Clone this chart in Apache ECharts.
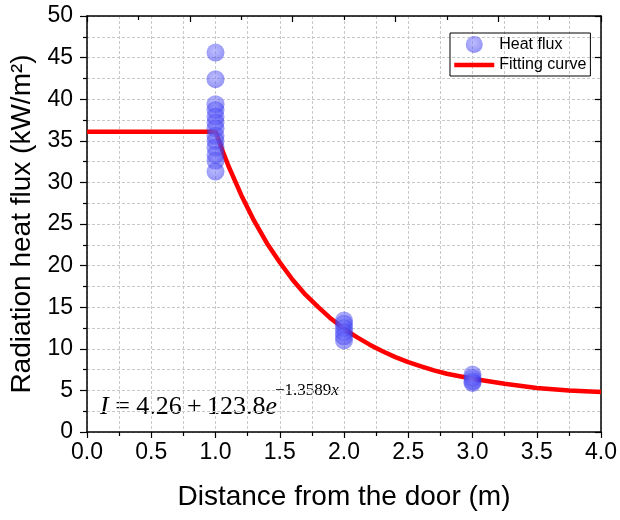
<!DOCTYPE html>
<html><head><meta charset="utf-8">
<script src="https://cdn.jsdelivr.net/npm/echarts@6/dist/echarts.min.js"></script>
<style>html,body{margin:0;padding:0;background:#fff}#c{width:620px;height:520px}</style>
</head><body><div id="c"></div>
<script>
// Measured heat flux points
const fluxX1 = [45.6, 42.4, 39.4, 38.7, 37.9, 37.2, 36.5, 35.6, 35.0, 34.2, 33.3, 32.6, 31.3];
const fluxX2 = [13.4, 13.0, 12.5, 12.0, 11.5, 11.0];
const fluxX3 = [6.9, 6.5, 6.1, 5.9];
// Fitting curve
const curveX = [0, 1.0, 1.05, 1.1, 1.2, 1.3, 1.4, 1.5, 1.6, 1.7, 1.8, 1.9, 2.0, 2.1, 2.2, 2.3, 2.4, 2.5, 2.6, 2.7, 2.8, 2.9, 3.0, 3.25, 3.5, 3.75, 4.0];
const curveY = [36.1, 36.1, 34.0, 32.0, 28.5, 25.4, 22.7, 20.4, 18.3, 16.5, 15.0, 13.6, 12.4, 11.4, 10.5, 9.7, 9.0, 8.4, 7.9, 7.4, 7.0, 6.7, 6.4, 5.8, 5.3, 5.0, 4.8];
const xTicks = ['0.0','0.5','1.0','1.5','2.0','2.5','3.0','3.5','4.0'];
const yTicks = ['0','5','10','15','20','25','30','35','40','45','50'];

const scatterData = [];
fluxX1.forEach(v => scatterData.push([1, v]));
fluxX2.forEach(v => scatterData.push([2, v]));
fluxX3.forEach(v => scatterData.push([3, v]));
const lineData = curveX.map((x, i) => [x, curveY[i]]);

const font = 'Liberation Sans, Arial, sans-serif';
const serif = 'Liberation Serif, Times New Roman, serif';
const dashed = {show: true, lineStyle: {color: '#c8c8c8', type: [3, 2], width: 1}};

const chart = echarts.init(document.getElementById('c'), null, {renderer: 'canvas'});
chart.setOption({
  animation: false,
  grid: {left: 87, right: 19, top: 16, bottom: 88},
  xAxis: [{
    type: 'value', min: 0, max: 4, interval: 0.5, position: 'bottom',
    name: 'Distance from the door (m)', nameLocation: 'middle', nameGap: 51,
    nameTextStyle: {fontFamily: font, fontSize: 28, color: '#000'},
    axisLine: {show: true, onZero: false, lineStyle: {color: '#000', width: 1.5}},
    axisTick: {show: true, inside: false, length: 6, lineStyle: {color: '#000', width: 1.2}},
    minorTick: {show: true, splitNumber: 2, length: 4, lineStyle: {color: '#000', width: 1.2}},
    axisLabel: {fontFamily: font, fontSize: 23, color: '#000', margin: 9,
      formatter: v => xTicks[Math.round(v / 0.5)] || ''},
    splitLine: dashed, minorSplitLine: dashed
  }, {
    type: 'value', min: 0, max: 4, interval: 0.8, position: 'top',
    axisLine: {show: true, onZero: false, lineStyle: {color: '#000', width: 1.5}},
    axisTick: {show: true, inside: true, length: 6, lineStyle: {color: '#000', width: 1.2}},
    minorTick: {show: true, splitNumber: 2, length: 4, lineStyle: {color: '#000', width: 1.2}},
    axisLabel: {show: false}, splitLine: {show: false}
  }],
  yAxis: [{
    type: 'value', min: 0, max: 50, interval: 5, position: 'left',
    name: 'Radiation heat flux (kW/m\u00B2)', nameLocation: 'middle', nameGap: 43,
    nameTextStyle: {fontFamily: font, fontSize: 28, color: '#000'},
    axisLine: {show: true, onZero: false, lineStyle: {color: '#000', width: 1.5}},
    axisTick: {show: true, inside: false, length: 7, lineStyle: {color: '#000', width: 1.2}},
    minorTick: {show: true, splitNumber: 2, length: 4, lineStyle: {color: '#000', width: 1.2}},
    axisLabel: {fontFamily: font, fontSize: 23, color: '#000', margin: 14,
      formatter: v => yTicks[Math.round(v / 5)] || ''},
    splitLine: dashed, minorSplitLine: dashed
  }, {
    type: 'value', min: 0, max: 50, interval: 5, position: 'right',
    axisLine: {show: true, onZero: false, lineStyle: {color: '#000', width: 1.5}},
    axisTick: {show: true, inside: true, length: 6, lineStyle: {color: '#000', width: 1.2}},
    axisLabel: {show: false}, splitLine: {show: false}
  }],
  legend: {
    orient: 'vertical', left: 450, top: 33,
    borderColor: '#000', borderWidth: 1, borderRadius: 0,
    padding: [3, 4, 3, 2], itemGap: 4, itemWidth: 40, itemHeight: 17,
    textStyle: {fontFamily: font, fontSize: 16, color: '#000'},
    data: [
      {name: 'Heat flux', icon: 'circle'},
      {name: 'Fitting curve', itemStyle: {color: 'rgba(0,0,0,0)', borderWidth: 0, opacity: 0},
       lineStyle: {color: '#ff0000', width: 4.5}}
    ]
  },
  series: [{
    name: 'Fitting curve', type: 'line', data: lineData, showSymbol: false, symbol: 'none',
    lineStyle: {color: '#ff0000', width: 4.5}, itemStyle: {color: '#ff0000'}, z: 3
  }, {
    name: 'Heat flux', type: 'scatter', data: scatterData, symbolSize: 18,
    itemStyle: {
      color: {type: 'radial', x: 0.45, y: 0.4, r: 0.6, colorStops: [
        {offset: 0, color: 'rgba(120,120,255,0.62)'},
        {offset: 1, color: 'rgba(40,40,235,0.62)'}]}
    }, z: 4
  }],
  graphic: [{
    type: 'text', left: 100, top: 394,
    style: {
      text: '{it|I}{n| = 4.26\u2009+\u2009123.8}{it|e}',
      rich: {
        it: {fontFamily: serif, fontStyle: 'italic', fontSize: 26, fill: '#000'},
        n: {fontFamily: serif, fontSize: 26, fill: '#000'}
      }
    }
  }, {
    type: 'text', left: 275, top: 382,
    style: {
      text: '{n|\u22121.3589}{it|x}',
      rich: {
        it: {fontFamily: serif, fontStyle: 'italic', fontSize: 17, fill: '#000'},
        n: {fontFamily: serif, fontSize: 17, fill: '#000'}
      }
    }
  }]
});
</script></body></html>
